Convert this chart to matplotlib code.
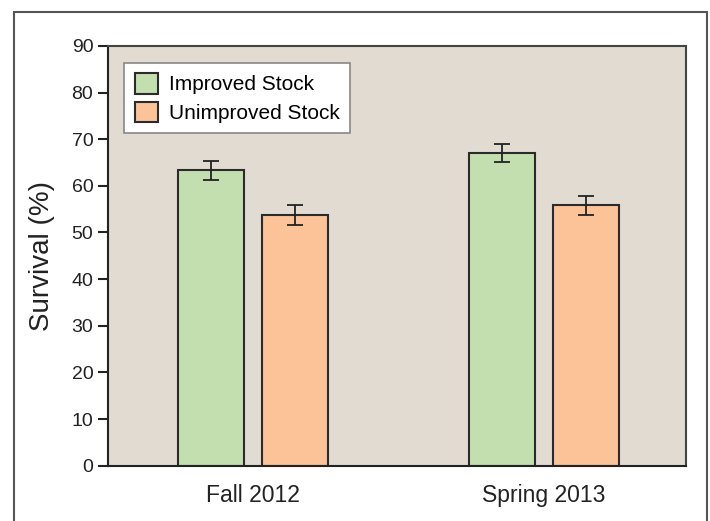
import matplotlib.pyplot as plt
import numpy as np
from matplotlib.patches import Rectangle

plt.rcParams['font.family'] = ['Liberation Sans', 'DejaVu Sans']

seasons = ['Fall 2012', 'Spring 2013']
improved = [63.3, 67.0]
improved_err = [2.0, 2.0]
unimproved = [53.8, 55.8]
unimproved_err = [2.1, 2.0]

fig = plt.figure(figsize=(7.1, 5.21), dpi=100)
ax = fig.add_axes([0.152, 0.106, 0.814, 0.806])
ax.set_facecolor('#e1dbd2')

x = np.arange(len(seasons))
w = 0.227
off = 0.144
err_kw = dict(ecolor='#222222', elinewidth=1.3, capsize=6, capthick=1.3)
ax.bar(x - off, improved, w, yerr=improved_err, color='#c3dfb0', edgecolor='#2b2b2b',
       linewidth=1.5, label='Improved Stock', error_kw=err_kw, zorder=2)
ax.bar(x + off, unimproved, w, yerr=unimproved_err, color='#fcc398', edgecolor='#2b2b2b',
       linewidth=1.5, label='Unimproved Stock', error_kw=err_kw, zorder=2)

ax.set_xlim(-0.498, 1.488)
ax.set_ylim(0, 90)
ax.set_yticks(range(0, 91, 10))
ax.tick_params(axis='y', direction='out', length=7, width=1.5, labelsize=14, colors='#222222')
ax.tick_params(axis='x', length=0, labelsize=16.5, pad=13, colors='#222222')
ax.set_xticks(x)
ax.set_xticklabels(seasons)
ax.set_ylabel('Survival (%)', fontsize=20, color='#222222', labelpad=12)
for s in ax.spines.values():
    s.set_color('#444444')
    s.set_linewidth(1.5)
ax.spines['left'].set_color('#222222')
ax.spines['bottom'].set_color('#222222')

leg = ax.legend(loc='upper left', bbox_to_anchor=(0.01, 0.985), fontsize=15, frameon=True,
                fancybox=False, edgecolor='#888888', framealpha=1, handlelength=1.15,
                handleheight=1.15, handletextpad=0.5, borderpad=0.5, labelspacing=0.35)
leg.get_frame().set_linewidth(1.2)
leg.get_frame().set_facecolor('white')

# outer border
fig.add_artist(Rectangle((14 / 710, -0.1), (707 - 14) / 710, 1.1 - 12 / 521,
                         transform=fig.transFigure, fill=False, edgecolor='#555555',
                         linewidth=1.5, clip_on=False))

fig.savefig('out.png', dpi=100)
